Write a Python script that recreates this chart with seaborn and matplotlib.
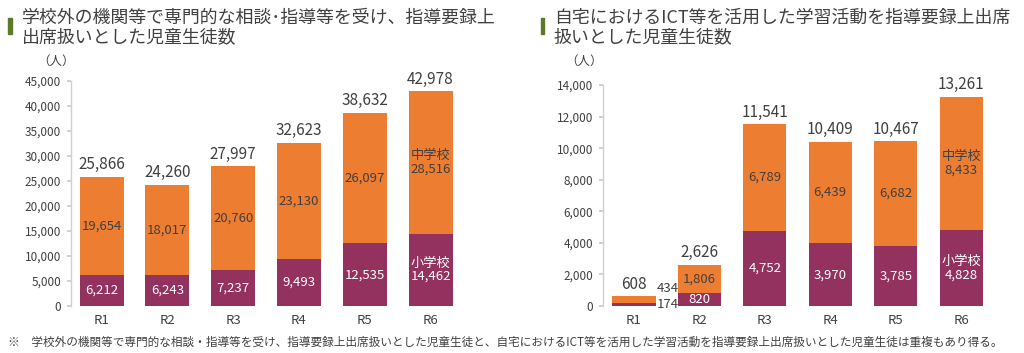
import matplotlib
matplotlib.use("Agg")
import matplotlib.pyplot as plt
import seaborn as sns
import pandas as pd
from matplotlib.patches import Rectangle
from matplotlib import font_manager

years = ["R1", "R2", "R3", "R4", "R5", "R6"]
# Chart 1: 学校外の機関等
c1_elem = [6212, 6243, 7237, 9493, 12535, 14462]
c1_jhs = [19654, 18017, 20760, 23130, 26097, 28516]
c1_total = [25866, 24260, 27997, 32623, 38632, 42978]
# Chart 2: 自宅におけるICT等
c2_elem = [174, 820, 4752, 3970, 3785, 4828]
c2_jhs = [434, 1806, 6789, 6439, 6682, 8433]
c2_total = [608, 2626, 11541, 10409, 10467, 13261]

title1 = "学校外の機関等で専門的な相談･指導等を受け、指導要録上\n出席扱いとした児童生徒数"
title2 = "自宅におけるICT等を活用した学習活動を指導要録上出席\n扱いとした児童生徒数"
footnote = "※　学校外の機関等で専門的な相談・指導等を受け、指導要録上出席扱いとした児童生徒と、自宅におけるICT等を活用した学習活動を指導要録上出席扱いとした児童生徒は重複もあり得る。"

sns.set_theme(style="white")
plt.rcParams['font.family'] = ['Noto Sans CJK JP', 'DejaVu Sans']

names = {f.name for f in font_manager.fontManager.ttflist}
NARROW = ['Liberation Sans Narrow', 'Noto Sans CJK JP'] if 'Liberation Sans Narrow' in names \
    else ['Noto Sans CJK JP', 'DejaVu Sans']

ORANGE = "#ED7D31"
PURPLE = "#93325F"
TXT = "#404040"
GREEN = "#5B7B2B"

fig = plt.figure(figsize=(10.24, 3.53), dpi=100)

def fmt(v):
    return f"{v:,}"

def draw(ax, elem, jhs, total, ymax, step, width, small_outside=False):
    df = pd.DataFrame({"year": years, "elem": elem, "jhs": jhs, "total": total})
    sns.barplot(data=df, x="year", y="total", color=ORANGE, saturation=1,
                width=width, ax=ax, edgecolor="none")
    sns.barplot(data=df, x="year", y="elem", color=PURPLE, saturation=1,
                width=width, ax=ax, edgecolor="none")
    ax.set_ylim(0, ymax)
    ax.set_xlim(-0.47, 5.6)
    ax.set_yticks(range(0, ymax + 1, step))
    ax.set_yticklabels([fmt(v) for v in range(0, ymax + 1, step)],
                       fontsize=8.5, color=TXT, family=NARROW)
    ax.tick_params(axis="y", length=3, color="#cccccc", pad=4, left=True)
    ax.tick_params(axis="x", length=0, labelsize=9.5, labelcolor=TXT, pad=6)
    for lab in ax.get_xticklabels():
        lab.set_family(NARROW)
    ax.set_xlabel("")
    ax.set_ylabel("")
    for s in ["top", "right", "bottom"]:
        ax.spines[s].set_visible(False)
    ax.spines["left"].set_color("#d0d0d0")
    ax.spines["left"].set_linewidth(1.0)
    for i in range(len(years)):
        ax.text(i, total[i] + ymax * 0.015, fmt(total[i]), ha="center", va="bottom",
                fontsize=11, color=TXT, family=NARROW)
        if small_outside and i == 0:
            ax.text(i + width / 2 + 0.02, elem[i] + jhs[i] / 2 + ymax * 0.02, fmt(jhs[i]),
                    ha="left", va="bottom", fontsize=9.5, color=TXT, family=NARROW)
            ax.text(i + width / 2 + 0.02, elem[i] / 2, fmt(elem[i]),
                    ha="left", va="center", fontsize=9.5, color=TXT, family=NARROW)
            continue
        if i == len(years) - 1:
            jl = "中学校\n" + fmt(jhs[i])
            el = "小学校\n" + fmt(elem[i])
        else:
            jl = fmt(jhs[i])
            el = fmt(elem[i])
        ax.text(i, elem[i] + jhs[i] / 2, jl, ha="center", va="center",
                fontsize=9.5, color=TXT, linespacing=1.05, family=NARROW)
        ax.text(i, elem[i] / 2, el, ha="center", va="center",
                fontsize=9.5, color="white", linespacing=1.05, family=NARROW)

ax1 = fig.add_axes([0.069, 0.133, 0.39, 0.638])
draw(ax1, c1_elem, c1_jhs, c1_total, 45000, 5000, 0.67)
ax2 = fig.add_axes([0.589, 0.133, 0.388, 0.626])
draw(ax2, c2_elem, c2_jhs, c2_total, 14000, 2000, 0.66, small_outside=True)

# Titles with green markers
fig.patches.append(Rectangle((0.008, 0.905), 0.0035, 0.045, transform=fig.transFigure,
                             color=GREEN, figure=fig))
fig.text(0.021, 0.975, title1, ha="left", va="top", fontsize=12.9, color=TXT, linespacing=1.1)
fig.patches.append(Rectangle((0.528, 0.905), 0.0035, 0.045, transform=fig.transFigure,
                             color=GREEN, figure=fig))
fig.text(0.541, 0.975, title2, ha="left", va="top", fontsize=12.9, color=TXT, linespacing=1.1)

fig.text(0.036, 0.825, "（人）", ha="left", va="center", fontsize=9, color=TXT)
fig.text(0.552, 0.825, "（人）", ha="left", va="center", fontsize=9, color=TXT)

fig.text(0.008, 0.03, footnote, ha="left", va="center", fontsize=8.4, color=TXT)

fig.savefig("out.png", dpi=100, facecolor="white")
